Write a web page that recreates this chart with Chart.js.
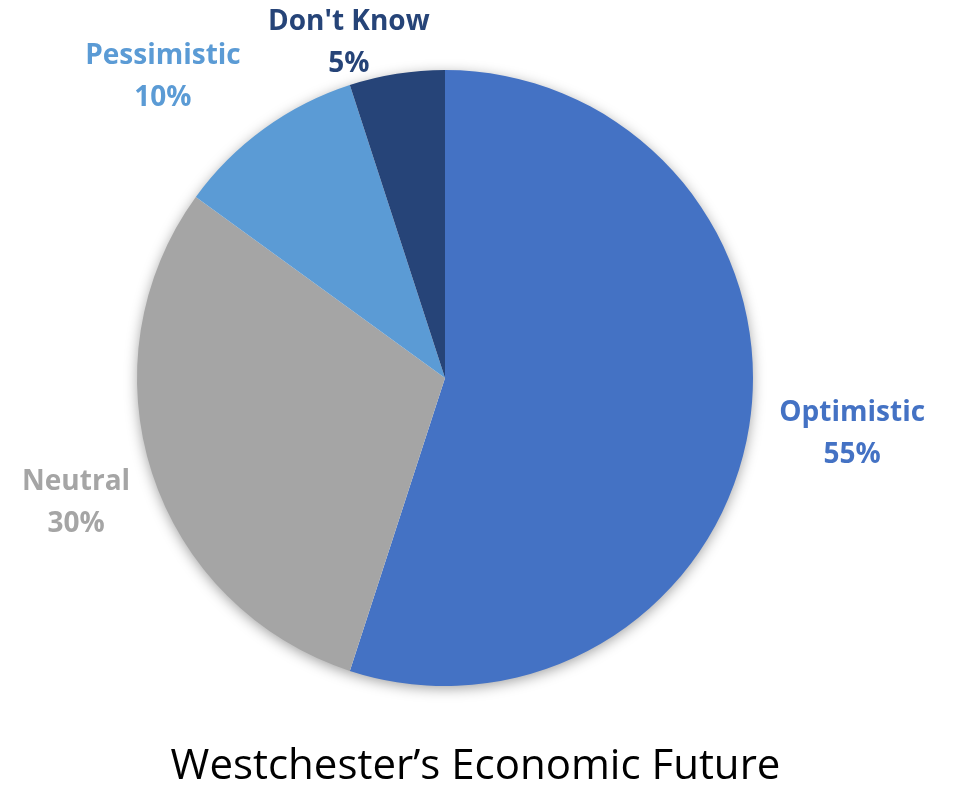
<!DOCTYPE html>
<html>
<head>
<meta charset="utf-8">
<script src="https://cdn.jsdelivr.net/npm/chart.js@4/dist/chart.umd.min.js"></script>
<style>
  html, body { margin: 0; padding: 0; background: #ffffff; }
  #wrap { width: 959px; height: 786px; }
</style>
</head>
<body>
<div id="wrap"><canvas id="pie" width="959" height="786"></canvas></div>
<script>
// Survey outlook shares (percent)
const categories = ["Optimistic", "Neutral", "Pessimistic", "Don't Know"];
const shares = [55, 30, 10, 5];
const sliceColors = ["#4472C4", "#A5A5A5", "#5B9BD5", "#264478"];
const chartTitle = "Westchester\u2019s Economic Future";

// Label placement relative to the rim point at each slice's mid-angle
const labelNudge = [[103, 8], [-76, 30], [-101, -52], [-48, -31]];

// Soft shadow under the whole pie, drawn once so it never shows between slices
const pieShadow = {
  id: 'pieShadow',
  beforeDatasetsDraw(chart) {
    const arc = chart.getDatasetMeta(0).data[0];
    if (!arc) return;
    const p = arc.getProps(['x', 'y', 'outerRadius'], true);
    const ctx = chart.ctx;
    ctx.save();
    ctx.shadowColor = 'rgba(0,0,0,0.4)';
    ctx.shadowBlur = 14;
    ctx.shadowOffsetX = 0;
    ctx.shadowOffsetY = 3;
    ctx.fillStyle = '#ffffff';
    ctx.beginPath();
    ctx.arc(p.x, p.y, p.outerRadius - 1, 0, Math.PI * 2);
    ctx.fill();
    ctx.restore();
  }
};

const outsideLabels = {
  id: 'outsideLabels',
  afterDatasetsDraw(chart) {
    const ctx = chart.ctx;
    const arcs = chart.getDatasetMeta(0).data;
    ctx.save();
    ctx.font = 'bold 28px "Open Sans", Lato, sans-serif';
    ctx.textAlign = 'center';
    ctx.textBaseline = 'middle';
    arcs.forEach((arc, i) => {
      const p = arc.getProps(['x', 'y', 'startAngle', 'endAngle', 'outerRadius'], true);
      const mid = (p.startAngle + p.endAngle) / 2;
      const cx = p.x + Math.cos(mid) * p.outerRadius + labelNudge[i][0];
      const cy = p.y + Math.sin(mid) * p.outerRadius + labelNudge[i][1];
      ctx.fillStyle = sliceColors[i];
      ctx.fillText(categories[i], cx, cy - 21);
      ctx.fillText(shares[i] + '%', cx, cy + 21);
    });
    ctx.restore();
  }
};

// Caption centred on the full canvas width, below the pie
const bottomCaption = {
  id: 'bottomCaption',
  afterDraw(chart) {
    const ctx = chart.ctx;
    ctx.save();
    ctx.font = '42px "Open Sans", Lato, sans-serif';
    ctx.fillStyle = '#000000';
    ctx.textAlign = 'center';
    ctx.textBaseline = 'middle';
    ctx.fillText(chartTitle, chart.width / 2 - 4, chart.chartArea.bottom + 81);
    ctx.restore();
  }
};

new Chart(document.getElementById('pie'), {
  type: 'pie',
  data: {
    labels: categories,
    datasets: [{
      data: shares,
      backgroundColor: sliceColors,
      borderWidth: 0,
      hoverOffset: 0
    }]
  },
  options: {
    responsive: false,
    animation: false,
    events: [],
    layout: { padding: { left: 137, right: 206, top: 70, bottom: 100 } },
    plugins: {
      legend: { display: false },
      tooltip: { enabled: false },
      title: { display: false }
    }
  },
  plugins: [pieShadow, outsideLabels, bottomCaption]
});
</script>
</body>
</html>
